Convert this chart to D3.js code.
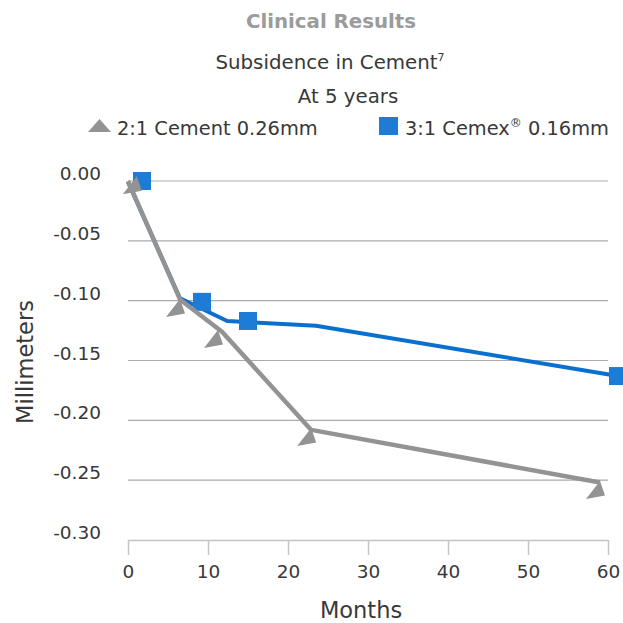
<html>

<head>
    <title>Subsidence</title>
    <script src='https://d3js.org/d3.v7.min.js'></script>
    <style>
        body { margin: 0; background: #fff; }
        text { font-family: "DejaVu Sans", sans-serif; fill: #383838; }
    </style>
</head>

<body>
    <svg id="chart"></svg>
    <script>
        // axis ticks
        var xTicks = [0, 10, 20, 30, 40, 50, 60];
        var yTicks = [0, -0.05, -0.10, -0.15, -0.20, -0.25, -0.30];

        // 2:1 Cement (grey)
        var cementMonths = [0, 6.5, 11.75, 22.9, 59];
        var cementValues = [0, -0.099, -0.126, -0.208, -0.252];
        var cementMarkMonths = [1.1, 6.5, 11.25, 22.9, 59];
        var cementMarkValues = [0.004, -0.0986, -0.1245, -0.2064, -0.2507];

        // 3:1 Cemex (blue)
        var cemexMonths = [0, 6.5, 12.4, 23.5, 61.25];
        var cemexValues = [-0.001, -0.098, -0.117, -0.121, -0.163];
        var cemexMarkMonths = [1.75, 9.25, 15.0, 61.25];
        var cemexMarkValues = [0, -0.101, -0.117, -0.163];

        var grey = "#939394", blue = "#0b6fd0", blueMark = "#1c7cd6";

        var svg = d3.select("#chart").attr("width", 623).attr("height", 623);

        var x = d3.scaleLinear().domain([0, 60]).range([128, 608]);
        var y = d3.scaleLinear().domain([0, -0.30]).range([181, 540]);

        // titles
        svg.append("text").attr("x", 331).attr("y", 28).attr("text-anchor", "middle")
            .style("font-size", "19.8px").style("font-weight", "bold").style("fill", "#9b9b9b")
            .text("Clinical Results");
        var sub = svg.append("text").attr("x", 330).attr("y", 69).attr("text-anchor", "middle")
            .style("font-size", "19.8px");
        sub.append("tspan").text("Subsidence in Cement");
        sub.append("tspan").attr("dy", -8).style("font-size", "11px").text("7");
        svg.append("text").attr("x", 348).attr("y", 103).attr("text-anchor", "middle")
            .style("font-size", "19.8px").text("At 5 years");

        // legend
        svg.append("path").attr("d", "M88,132L99.5,119L111,132Z").style("fill", grey);
        svg.append("text").attr("x", 117).attr("y", 135).style("font-size", "19.4px").text("2:1 Cement 0.26mm");
        svg.append("rect").attr("x", 379).attr("y", 117).attr("width", 19).attr("height", 18).style("fill", blueMark);
        var leg2 = svg.append("text").attr("x", 405).attr("y", 135).style("font-size", "19.4px");
        leg2.append("tspan").text("3:1 Cemex");
        leg2.append("tspan").attr("dy", -8).style("font-size", "12px").text("®");
        leg2.append("tspan").attr("dy", 8).text(" 0.16mm");

        // grid lines
        svg.append("g").selectAll("line").data(yTicks.slice(0, -1)).enter().append("line")
            .attr("x1", x(0)).attr("x2", x(60))
            .attr("y1", function (d) { return y(d); }).attr("y2", function (d) { return y(d); })
            .style("stroke", "#ababab").style("stroke-width", 1.2);

        // y axis labels
        svg.append("g").selectAll("text").data(yTicks).enter().append("text")
            .attr("x", 101).attr("y", function (d) { return y(d) - 1; })
            .attr("text-anchor", "end").style("font-size", "18.5px")
            .text(function (d) { return d3.format(".2f")(d).replace("−", "-"); });

        // x axis
        var xAxis = d3.axisBottom(x).tickValues(xTicks).tickSize(15).tickPadding(10).tickSizeOuter(0);
        var gx = svg.append("g").attr("transform", "translate(0," + y(-0.30) + ")").call(xAxis);
        gx.select(".domain").style("stroke", "#c4c4c4").style("stroke-width", 1.5);
        gx.selectAll(".tick line").style("stroke", "#c4c4c4").style("stroke-width", 1.5);
        gx.selectAll(".tick text").style("font-size", "18.5px").style("font-family", "DejaVu Sans").style("fill", "#383838");

        svg.append("text").attr("x", 361).attr("y", 618).attr("text-anchor", "middle")
            .style("font-size", "22.5px").text("Months");
        svg.append("text").attr("transform", "translate(33,362) rotate(-90)").attr("text-anchor", "middle")
            .style("font-size", "22.5px").text("Millimeters");

        var line = d3.line().x(function (d) { return x(d[0]); }).y(function (d) { return y(d[1]); });

        // blue series
        svg.append("path").datum(d3.zip(cemexMonths, cemexValues)).attr("d", line)
            .style("fill", "none").style("stroke", blue).style("stroke-width", 4).style("stroke-linejoin", "round");
        svg.append("g").selectAll("rect").data(d3.zip(cemexMarkMonths, cemexMarkValues)).enter().append("rect")
            .attr("x", function (d) { return x(d[0]) - 9; }).attr("y", function (d) { return y(d[1]) - 9; })
            .attr("width", 18).attr("height", 18).style("fill", blueMark);

        // grey series
        svg.append("path").datum(d3.zip(cementMonths, cementValues)).attr("d", line)
            .style("fill", "none").style("stroke", grey).style("stroke-width", 4.5).style("stroke-linejoin", "round");
        svg.append("g").selectAll("path").data(d3.zip(cementMarkMonths, cementMarkValues)).enter().append("path")
            .attr("transform", function (d) { return "translate(" + x(d[0]) + "," + y(d[1]) + ")"; })
            .attr("d", "M0,0L-14,18L5,14.5Z").style("fill", grey);
    </script>
</body>

</html>
